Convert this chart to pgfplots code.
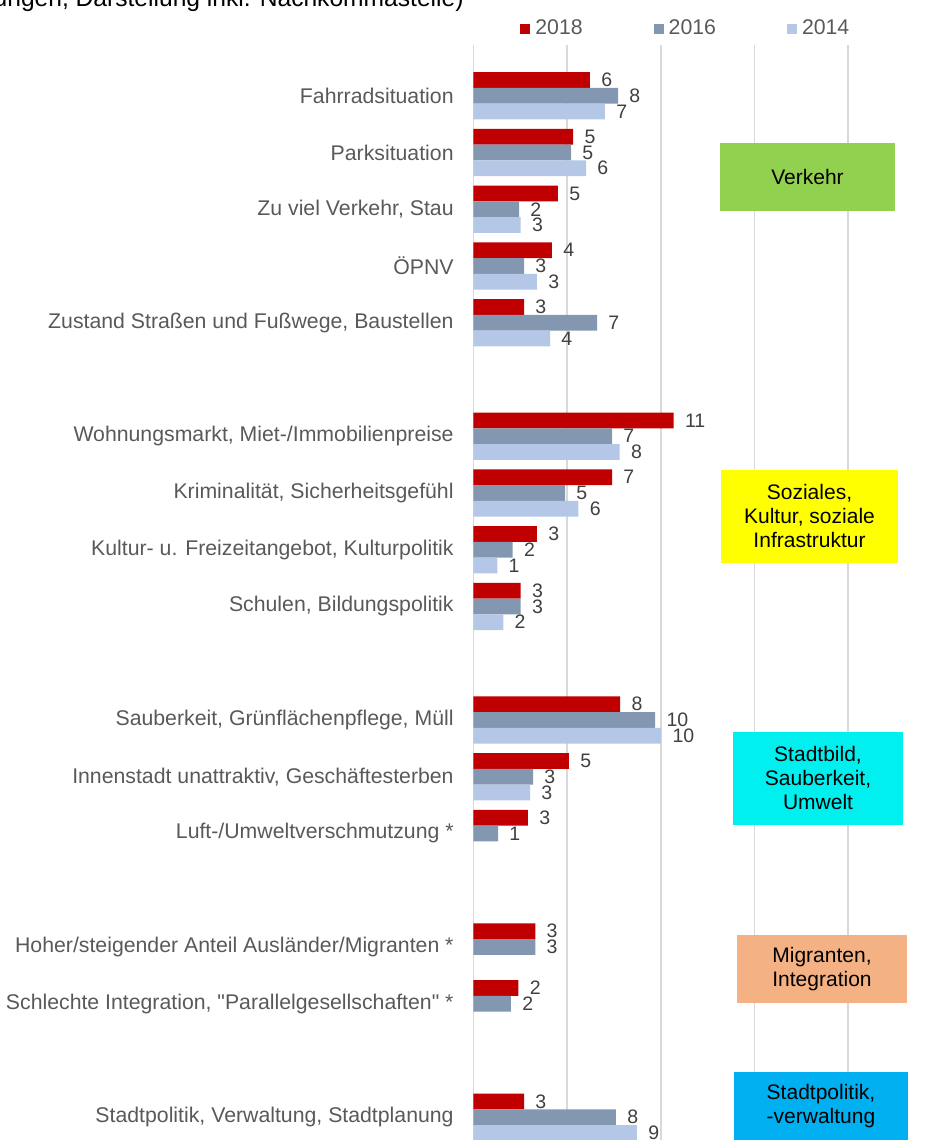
\documentclass[border=0pt]{standalone}
\usepackage{pgfplots}
\pgfplotsset{compat=1.18}
\usepackage{pgfplotstable}
\usepackage{fontspec}
\setmainfont{Liberation Sans}
\newfontfamily\plainsans{Liberation Sans}[Ligatures=TeXOff]

\definecolor{c18}{HTML}{C00000}
\definecolor{c16}{HTML}{8497B0}
\definecolor{c14}{HTML}{B4C7E7}
\definecolor{lbl}{HTML}{595959}
\definecolor{val}{HTML}{404040}
\definecolor{gridc}{HTML}{D9D9D9}
\definecolor{bgreen}{HTML}{92D050}
\definecolor{byellow}{HTML}{FFFF00}
\definecolor{bcyan}{HTML}{00F0F0}
\definecolor{borange}{HTML}{F4B183}
\definecolor{bblue}{HTML}{00B0F0}

% y = -(row index from top); v = bar value; l = printed label
\pgfplotstableread{
y v l
0 6.22 6
-1 5.32 5
-2 4.51 5
-3 4.19 4
-4 2.70 3
-6 10.69 11
-7 7.40 7
-8 3.39 3
-9 2.52 3
-11 7.83 8
-12 5.10 5
-13 2.91 3
-15 3.30 3
-16 2.40 2
-18 2.70 3
}\tA
\pgfplotstableread{
y v l
0 7.72 8
-1 5.21 5
-2 2.43 2
-3 2.70 3
-4 6.60 7
-6 7.40 7
-7 4.89 5
-8 2.09 2
-9 2.52 3
-11 9.70 10
-12 3.18 3
-13 1.31 1
-15 3.30 3
-16 2.00 2
-18 7.61 8
}\tB
\pgfplotstableread{
y v l
0 7.02 7
-1 6.01 6
-2 2.52 3
-3 3.39 3
-4 4.09 4
-6 7.81 8
-7 5.60 6
-8 1.27 1
-9 1.59 2
-11 10.02 10
-12 3.02 3
-18 8.73 9
}\tC

\newcommand{\lblfont}{\fontsize{10.63}{12}\selectfont}
\newcommand{\boxfont}{\fontsize{10.5}{12}\selectfont}
\newcommand{\valfont}{\fontsize{9.75}{11}\selectfont}
\newcommand{\qq}{{\plainsans\symbol{34}}}

\begin{document}
\begin{tikzpicture}
\useasboundingbox (0,0) rectangle (465.5pt,-570pt);
\clip (0,0) rectangle (465.5pt,-570pt);
\begin{axis}[
  at={(236.75pt,-22.5pt)}, anchor=north west,
  scale only axis, width=187.25pt, height=561.65pt,
  xmin=0, xmax=20, ymin=-18.9, ymax=0.8934,
  xbar, bar width=7.85pt,
  axis line style={draw=none},
  xtick={0,5,10,15,20}, xticklabels={{},{},{},{},{}},
  xticklabel pos=upper,
  xmajorgrids, major grid style={gridc, line width=0.75pt},
  ytick={-18,-16,-15,-13,-12,-11,-9,-8,-7,-6,-4,-3,-2,-1,0},
  yticklabels={
    {Stadtpolitik, Verwaltung, Stadtplanung},
    {Schlechte Integration, \qq Parallelgesellschaften\qq{} *},
    {Hoher/steigender Anteil Ausländer/Migranten *},
    {Luft-/Umweltverschmutzung *},
    {Innenstadt unattraktiv, Geschäftesterben},
    {Sauberkeit, Grünflächenpflege, Müll},
    {Schulen, Bildungspolitik},
    {Kultur- u. Freizeitangebot, Kulturpolitik},
    {Kriminalität, Sicherheitsgefühl},
    {Wohnungsmarkt, Miet-/Immobilienpreise},
    {Zustand Straßen und Fußwege, Baustellen},
    {ÖPNV},
    {Zu viel Verkehr, Stau},
    {Parksituation},
    {Fahrradsituation}},
  major tick length=0pt,
  yticklabel style={font=\lblfont, text=lbl, inner sep=0pt, xshift=-9.75pt},
  nodes near coords, point meta=explicit symbolic,
  every node near coord/.append style={font=\valfont, text=val, anchor=west, inner sep=0pt, xshift=5.5pt},
  legend columns=3,
  legend image code/.code={\fill[#1] (0pt,-2.5pt) rectangle (5pt,2.5pt);},
  legend style={at={(0.1242,1.0142)}, anchor=west, draw=none, fill=none,
    inner sep=0pt, font=\lblfont, text=lbl,
    nodes={inner xsep=2.5pt, inner ysep=1pt},
    /tikz/every even column/.append style={column sep=33pt}},
  clip=false,
]
\addplot[fill=c18, draw=none, bar shift=7.85pt] table[x=v,y=y,meta=l]{\tA};
\addlegendentry{2018}
\addplot[fill=c16, draw=none, bar shift=0pt] table[x=v,y=y,meta=l]{\tB};
\addlegendentry{2016}
\addplot[fill=c14, draw=none, bar shift=-7.85pt] table[x=v,y=y,meta=l]{\tC};
\addlegendentry{2014}
\end{axis}
\begin{scope}[x=0.5pt,y=-0.5pt]
\node[anchor=base east, inner sep=0pt, font=\fontsize{12.3}{14}\selectfont] at (464,6.5) {(Mehrfachnennungen, Darstellung inkl. Nachkommastelle)};
\node[fill=bgreen, minimum width=87.5pt, minimum height=33.7pt, inner sep=0pt, align=center, font=\boxfont] at (807.5,177) {Verkehr};
\node[fill=byellow, minimum width=88.5pt, minimum height=46.35pt, inner sep=0pt, align=center, font=\boxfont] at (809.5,516.35) {Soziales,\\Kultur, soziale\\Infrastruktur};
\node[fill=bcyan, minimum width=85pt, minimum height=46.35pt, inner sep=0pt, align=center, font=\boxfont] at (818,778.35) {Stadtbild,\\Sauberkeit,\\Umwelt};
\node[fill=borange, minimum width=85pt, minimum height=33.85pt, inner sep=0pt, align=center, font=\boxfont] at (822,968.85) {Migranten,\\Integration};
\node[fill=bblue, minimum width=87pt, minimum height=34pt, inner sep=0pt, align=center, font=\boxfont] at (821,1106) {Stadtpolitik,\\-verwaltung};
\end{scope}
\end{tikzpicture}
\end{document}
